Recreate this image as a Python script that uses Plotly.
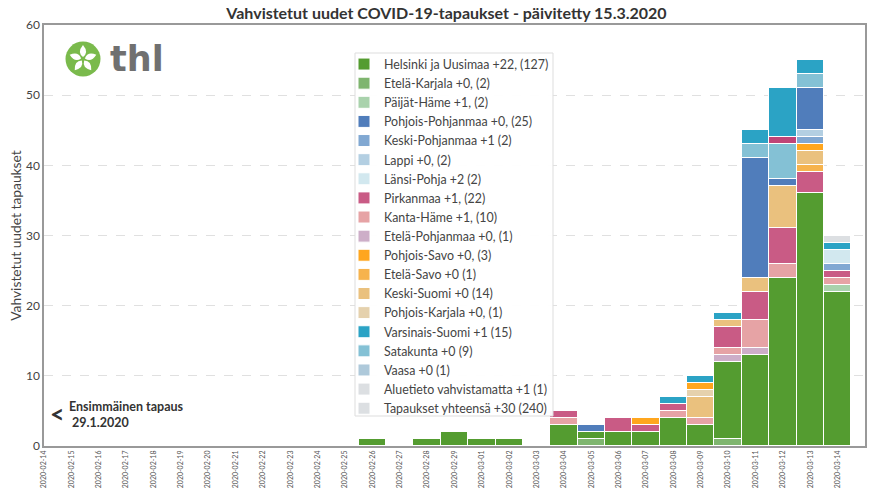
import math
import plotly.graph_objects as go

W = 877
H = 493
LEFT, RIGHT, TOP, BOTTOM = 44, 12, 25, 47

days = ["2020-02-14", "2020-02-15", "2020-02-16", "2020-02-17", "2020-02-18", "2020-02-19",
        "2020-02-20", "2020-02-21", "2020-02-22", "2020-02-23", "2020-02-24", "2020-02-25",
        "2020-02-26", "2020-02-27", "2020-02-28", "2020-02-29", "2020-03-01", "2020-03-02",
        "2020-03-03", "2020-03-04", "2020-03-05", "2020-03-06", "2020-03-07", "2020-03-08",
        "2020-03-09", "2020-03-10", "2020-03-11", "2020-03-12", "2020-03-13", "2020-03-14"]

helsinki =   [0,0,0,0,0,0,0,0,0,0,0,0,1,0,1,2,1,1,0,3,1,2,2,4,3,11,13,24,36,22]
et_karjala = [0,0,0,0,0,0,0,0,0,0,0,0,0,0,0,0,0,0,0,0,1,0,0,0,0,1,0,0,0,0]
paijat =     [0,0,0,0,0,0,0,0,0,0,0,0,0,0,0,0,0,0,0,0,0,0,0,0,0,0,0,0,0,1]
p_pohjanmaa =[0,0,0,0,0,0,0,0,0,0,0,0,0,0,0,0,0,0,0,0,1,0,0,0,0,0,17,1,6,0]
k_pohjanmaa =[0,0,0,0,0,0,0,0,0,0,0,0,0,0,0,0,0,0,0,0,0,0,0,0,0,0,0,0,1,1]
lappi =      [0,0,0,0,0,0,0,0,0,0,0,0,0,0,0,0,0,0,0,0,0,0,0,0,0,0,0,0,1,0]
lansi_pohja =[0,0,0,0,0,0,0,0,0,0,0,0,0,0,0,0,0,0,0,0,0,0,0,0,0,0,0,0,0,2]
pirkanmaa =  [0,0,0,0,0,0,0,0,0,0,0,0,0,0,0,0,0,0,0,1,0,2,1,1,0,3,4,5,3,1]
kanta_hame = [0,0,0,0,0,0,0,0,0,0,0,0,0,0,0,0,0,0,0,1,0,0,0,1,1,1,4,2,0,1]
et_pohjanmaa=[0,0,0,0,0,0,0,0,0,0,0,0,0,0,0,0,0,0,0,0,0,0,0,0,0,1,1,0,0,0]
p_savo =     [0,0,0,0,0,0,0,0,0,0,0,0,0,0,0,0,0,0,0,0,0,0,1,0,1,0,0,0,1,0]
et_savo =    [0,0,0,0,0,0,0,0,0,0,0,0,0,0,0,0,0,0,0,0,0,0,0,0,0,0,0,0,1,0]
k_suomi =    [0,0,0,0,0,0,0,0,0,0,0,0,0,0,0,0,0,0,0,0,0,0,0,0,3,1,2,6,2,0]
p_karjala =  [0,0,0,0,0,0,0,0,0,0,0,0,0,0,0,0,0,0,0,0,0,0,0,0,1,0,0,0,0,0]
varsinais =  [0,0,0,0,0,0,0,0,0,0,0,0,0,0,0,0,0,0,0,0,0,0,0,1,1,1,2,7,2,1]
satakunta =  [0,0,0,0,0,0,0,0,0,0,0,0,0,0,0,0,0,0,0,0,0,0,0,0,0,0,2,5,2,0]
vaasa =      [0,0,0,0,0,0,0,0,0,0,0,0,0,0,0,0,0,0,0,0,0,0,0,0,0,0,0,1,0,0]
aluetieto =  [0,0,0,0,0,0,0,0,0,0,0,0,0,0,0,0,0,0,0,0,0,0,0,0,0,0,0,0,0,1]
yhteensa =   [0,0,0,0,0,0,0,0,0,0,0,0,0,0,0,0,0,0,0,0,0,0,0,0,0,0,0,0,0,0]

# listed in the order they stack, rank is the place in the legend
series = [
    ("Etelä-Karjala +0, (2)", et_karjala, "#7fb56f", 2),
    ("Helsinki ja Uusimaa +22, (127)", helsinki, "#549c30", 1),
    ("Päijät-Häme +1, (2)", paijat, "#a9d2ac", 3),
    ("Etelä-Pohjanmaa +0, (1)", et_pohjanmaa, "#cdaec8", 10),
    ("Kanta-Häme +1, (10)", kanta_hame, "#e6a3a5", 9),
    ("Pirkanmaa +1, (22)", pirkanmaa, "#c95b85", 8),
    ("Etelä-Savo +0 (1)", et_savo, "#f6b34d", 12),
    ("Keski-Suomi +0 (14)", k_suomi, "#eac17e", 13),
    ("Pohjois-Karjala +0, (1)", p_karjala, "#e5d1ad", 14),
    ("Pohjois-Savo +0, (3)", p_savo, "#ffa61e", 11),
    ("Keski-Pohjanmaa +1 (2)", k_pohjanmaa, "#81a8d2", 5),
    ("Lappi +0, (2)", lappi, "#b3cfe2", 6),
    ("Länsi-Pohja +2 (2)", lansi_pohja, "#d2e8ef", 7),
    ("Pohjois-Pohjanmaa +0, (25)", p_pohjanmaa, "#507dbb", 4),
    ("Satakunta +0 (9)", satakunta, "#84c1d5", 16),
    ("Vaasa +0 (1)", vaasa, "#c04477", 17),
    ("Varsinais-Suomi +1 (15)", varsinais, "#2ba3c5", 15),
    ("Aluetieto vahvistamatta +1 (1)", aluetieto, "#dcdfe2", 18),
    ("Tapaukset yhteensä +30 (240)", yhteensa, "#dcdfe2", 19),
]


def px_x(v):
    return (v - LEFT) / (W - LEFT - RIGHT)


def px_y(v):
    return 1 - (v - TOP) / (H - TOP - BOTTOM)


fig = go.Figure()
for name, vals, col, rank in series:
    # the Vaasa bar is darker than its legend swatch, so it gets a separate legend entry
    if name.startswith("Vaasa"):
        fig.add_trace(go.Bar(x=days, y=vals, marker=dict(color=col, line=dict(color="white", width=1)),
                             showlegend=False, name=name))
        fig.add_trace(go.Bar(x=days, y=[None] * len(days), marker=dict(color="#aec9da", line=dict(color="white", width=1)),
                             name=name, legendrank=rank))
        continue
    fig.add_trace(go.Bar(x=days, y=vals, marker=dict(color=col, line=dict(color="white", width=1)),
                         name=name, legendrank=rank))

# legend box and logo
shapes = [dict(type="rect", xref="paper", yref="paper", layer="above",
               x0=px_x(355), x1=px_x(553), y0=px_y(416), y1=px_y(53),
               fillcolor="rgba(255,255,255,0.95)", line=dict(color="#dddddd", width=1)),
          dict(type="circle", xref="paper", yref="paper", layer="above",
               x0=px_x(65.5), x1=px_x(100.5), y0=px_y(76.5), y1=px_y(41.5),
               fillcolor="#7aba4c", line=dict(width=0))]
cx, cy = 83, 59
for k in range(5):
    a = math.radians(-90 + 72 * k)
    tip = (cx + 14 * math.cos(a), cy + 14 * math.sin(a))
    s1 = (cx + 9 * math.cos(a - 0.75), cy + 9 * math.sin(a - 0.75))
    s2 = (cx + 9 * math.cos(a + 0.75), cy + 9 * math.sin(a + 0.75))
    path = "M %f %f Q %f %f %f %f Q %f %f %f %f Z" % (
        px_x(cx + 2 * math.cos(a)), px_y(cy + 2 * math.sin(a)),
        px_x(s1[0]), px_y(s1[1]), px_x(tip[0]), px_y(tip[1]),
        px_x(s2[0]), px_y(s2[1]), px_x(cx + 2 * math.cos(a)), px_y(cy + 2 * math.sin(a)))
    shapes.append(dict(type="path", path=path, xref="paper", yref="paper", layer="above",
                       fillcolor="white", line=dict(width=0)))

annotations = [
    dict(text="<b>thl</b>", x=px_x(108), y=px_y(59), xref="paper", yref="paper", xanchor="left", yanchor="middle",
         showarrow=False, font=dict(family="DejaVu Sans", size=35, color="#707070")),
    dict(text="<b><</b>", x=px_x(57), y=px_y(413), xref="paper", yref="paper", xanchor="center", yanchor="middle",
         showarrow=False, font=dict(family="Lato", size=25, color="#333333")),
    dict(text="<b>Ensimmäinen tapaus<br> 29.1.2020</b>", x=px_x(67), y=px_y(414), xref="paper", yref="paper",
         xanchor="left", yanchor="middle", align="left", showarrow=False,
         font=dict(family="Lato", size=12.5, color="#333333")),
]

fig.update_layout(
    width=W, height=H,
    margin=dict(l=LEFT, r=RIGHT, t=TOP, b=BOTTOM),
    template="none",
    paper_bgcolor="white",
    plot_bgcolor="white",
    font=dict(family="Lato", color="#444444"),
    barmode="stack",
    bargap=0.0,
    title=dict(text="<b>Vahvistetut uudet COVID-19-tapaukset - päivitetty 15.3.2020</b>",
               x=(226 + 667) / 2 / W, xanchor="center", y=1 - 13 / H, yanchor="middle",
               font=dict(family="Lato", size=16, color="#333333")),
    legend=dict(x=px_x(344), y=px_y(49.5), xanchor="left", yanchor="top",
                bgcolor="rgba(0,0,0,0)", borderwidth=0, traceorder="normal",
                font=dict(family="Lato", size=12.4, color="#444444")),
    shapes=shapes,
    annotations=annotations,
)
fig.update_xaxes(type="category", range=[0, 30], tickangle=-90, showgrid=False,
                 tickfont=dict(size=7, color="#555555"), tickmode="array", tickvals=days, ticktext=days,
                 showline=True, mirror=True, linecolor="#999999", linewidth=1.5, ticks="", zeroline=False)
fig.update_yaxes(range=[0, 60], dtick=10, showgrid=True, gridcolor="#e0e0e0", griddash="dash", gridwidth=1,
                 title=dict(text="Vahvistetut uudet tapaukset", font=dict(size=13.8, color="#444444"), standoff=1),
                 tickfont=dict(size=12, color="#444444"),
                 showline=True, mirror=True, linecolor="#999999", linewidth=1.5, ticks="", zeroline=False)

fig.write_html("out.html", config=dict(displayModeBar=False), post_script="document.body.style.margin='0';")
